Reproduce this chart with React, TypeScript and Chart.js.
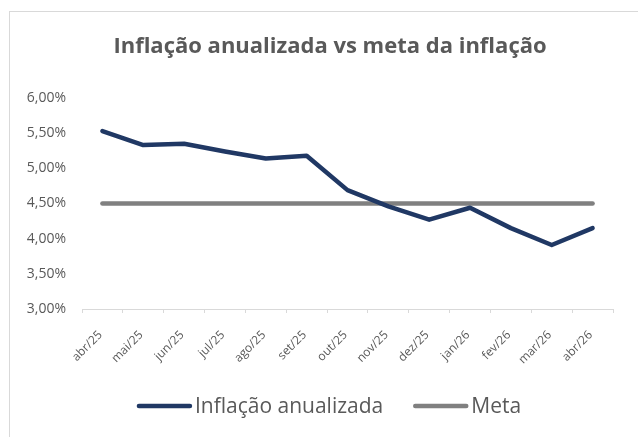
import React, { useEffect, useRef } from "react";
import { Chart, registerables } from "chart.js";

Chart.register(...registerables);

const TITLE = "Inflação anualizada vs meta da inflação";
const CATEGORIES = ["abr/25", "mai/25", "jun/25", "jul/25", "ago/25", "set/25", "out/25", "nov/25", "dez/25", "jan/26", "fev/26", "mar/26", "abr/26"];
const INFLACAO = [5.53, 5.33, 5.35, 5.24, 5.14, 5.18, 4.69, 4.46, 4.27, 4.44, 4.15, 3.91, 4.15];
const META = [4.5, 4.5, 4.5, 4.5, 4.5, 4.5, 4.5, 4.5, 4.5, 4.5, 4.5, 4.5, 4.5];
const SERIES_NAMES = ["Inflação anualizada", "Meta"];
const Y_MIN = 3;
const Y_MAX = 6;
const Y_STEP = 0.5;

const FONT = "'Open Sans', 'Noto Sans', sans-serif";
const TEXT = "#595959";

const decorPlugin = {
  id: "decor",
  beforeDraw(chart: any) {
    const ctx = chart.ctx;
    ctx.save();
    ctx.fillStyle = "#ffffff";
    ctx.fillRect(0, 0, chart.width, chart.height);
    ctx.strokeStyle = "#d9d9d9";
    ctx.lineWidth = 1;
    ctx.strokeRect(9.5, 11.5, chart.width + 10, chart.height + 10);
    ctx.restore();
  },
  afterDraw(chart: any) {
    const ctx = chart.ctx;
    ctx.save();
    ctx.fillStyle = TEXT;
    ctx.font = `bold 22px ${FONT}`;
    ctx.textAlign = "center";
    ctx.textBaseline = "middle";
    ctx.fillText(TITLE, 330, 47);

    // legend
    ctx.font = `21px ${FONT}`;
    ctx.textAlign = "left";
    const lineW = 55;
    const gap = 3;
    const itemGap = 30;
    const ds = chart.data.datasets;
    const widths = ds.map((d: any) => lineW + gap + ctx.measureText(d.label).width);
    const total = widths.reduce((a: number, b: number) => a + b, 0) + itemGap * (ds.length - 1);
    let x = 329 - total / 2;
    const y = 406;
    ds.forEach((d: any, i: number) => {
      ctx.strokeStyle = d.borderColor;
      ctx.lineWidth = d.borderWidth;
      ctx.lineCap = "round";
      ctx.beginPath();
      ctx.moveTo(x + 2, y);
      ctx.lineTo(x + lineW - 2, y);
      ctx.stroke();
      ctx.fillStyle = TEXT;
      ctx.fillText(d.label, x + lineW + gap, y + 1);
      x += widths[i] + itemGap;
    });
    ctx.restore();
  },
};

export default function App() {
  const ref = useRef<HTMLCanvasElement>(null);
  useEffect(() => {
    document.body.style.margin = "0";
    const chart = new Chart(ref.current!, {
      type: "line",
      data: {
        labels: CATEGORIES,
        datasets: [
          {
            label: SERIES_NAMES[0],
            data: INFLACAO,
            borderColor: "#203864",
            borderWidth: 4.5,
            pointRadius: 0,
            tension: 0,
            borderCapStyle: "round",
            borderJoinStyle: "round",
            order: 0,
          },
          {
            label: SERIES_NAMES[1],
            data: META,
            borderColor: "#808080",
            borderWidth: 4.5,
            pointRadius: 0,
            tension: 0,
            borderCapStyle: "round",
            order: 1,
          },
        ],
      },
      options: {
        animation: false,
        responsive: false,
        layout: { padding: { top: 98, right: 25, bottom: 0, left: 0 } },
        plugins: {
          legend: { display: false },
          title: { display: false },
          tooltip: { enabled: false },
        },
        scales: {
          x: {
            offset: true,
            grid: {
              display: true,
              drawOnChartArea: false,
              drawTicks: true,
              tickLength: 4,
              color: "#d9d9d9",
              offset: true,
            },
            border: { display: true, color: "#d9d9d9", width: 1 },
            ticks: {
              color: TEXT,
              font: { family: FONT, size: 12 },
              minRotation: 45,
              maxRotation: 45,
              autoSkip: false,
              padding: 15,
              labelOffset: -2,
            },
            afterFit(scale: any) {
              scale.height = 437 - 309;
            },
          },
          y: {
            min: Y_MIN,
            max: Y_MAX,
            grid: { display: false, drawTicks: false },
            border: { display: false },
            ticks: {
              stepSize: Y_STEP,
              color: TEXT,
              font: { family: FONT, size: 14 },
              padding: 16,
              callback: (v: any) => Number(v).toFixed(2).replace(".", ",") + "%",
            },
            afterFit(scale: any) {
              scale.width = 82;
            },
          },
        },
      },
      plugins: [decorPlugin],
    });
    return () => chart.destroy();
  }, []);
  return (
    <div style={{ position: "absolute", left: 0, top: 0, width: 638, height: 437 }}>
      <canvas ref={ref} width={638} height={437} style={{ display: "block" }} />
    </div>
  );
}
